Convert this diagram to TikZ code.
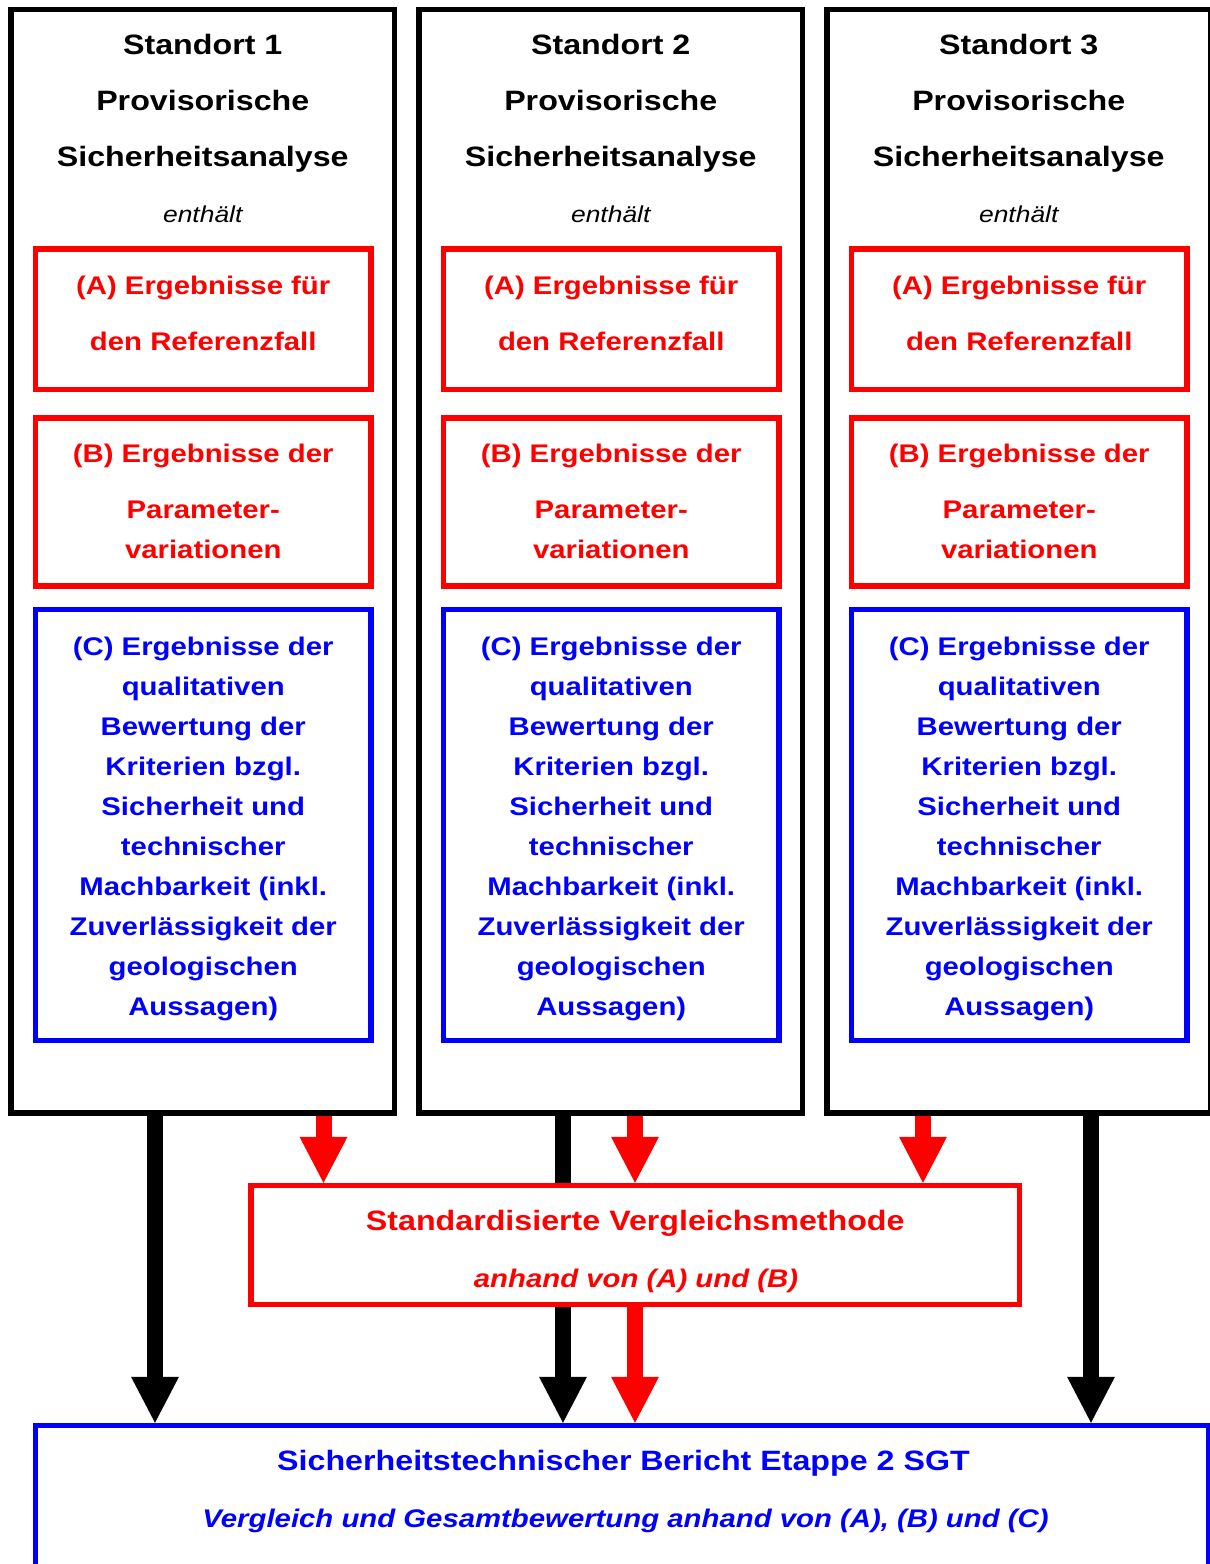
\documentclass[tikz,border=0pt]{standalone}
\usepackage{fontspec}
\setmainfont{Liberation Sans}[FakeStretch=1.15]
\usetikzlibrary{arrows.meta}
\tikzset{
  frame/.style={line width=5.5pt, inner sep=0pt, fill=white},
  blkbox/.style={frame, draw=black},
  redbox/.style={frame, draw=red},
  bluebox/.style={frame, draw=blue},
  tline/.style={inner sep=0pt, anchor=base},
  hd/.style={tline, text=black, font=\fontsize{28}{28}\selectfont\bfseries},
  contains/.style={tline, text=black, font=\fontsize{23}{23}\selectfont\itshape},
  redtxt/.style={tline, text=red, font=\fontsize{25.5}{25.5}\selectfont\bfseries},
  bluetxt/.style={tline, text=blue, font=\fontsize{25.5}{25.5}\selectfont\bfseries},
  bigred/.style={tline, text=red, font=\fontsize{28}{28}\selectfont\bfseries},
  itred/.style={tline, text=red, font=\fontsize{25.5}{25.5}\selectfont\bfseries\itshape},
  bigblue/.style={tline, text=blue, font=\fontsize{28}{28}\selectfont\bfseries},
  itblue/.style={tline, text=blue, font=\fontsize{25.5}{25.5}\selectfont\bfseries\itshape},
  shaft/.style={line width=16pt},
  blackarrow/.style={shaft, draw=black, -{Triangle[length=46pt,width=48pt,line width=0pt]}},
  redarrow/.style={shaft, draw=red, -{Triangle[length=46pt,width=48pt,line width=0pt]}},
}
\begin{document}
\begin{tikzpicture}[x=1pt, y=-1pt]
\fill[white] (0,0) rectangle (1210,1564);
\useasboundingbox (0,0) rectangle (1210,1564);

\foreach \k/\n in {0/1,1/2,2/3} {
  \pgfmathsetmacro\cx{202.75+408*\k}
  \node[blkbox, minimum width=383.5pt, minimum height=1103.5pt] (s\n) at (\cx,561.25) {};
  \node[redbox, minimum width=335.5pt, minimum height=140.7pt] (a\n) at (\cx+0.5,319.35) {};
  \node[redbox, minimum width=335.5pt, minimum height=168pt] (b\n) at (\cx+0.5,502) {};
  \node[bluebox, minimum width=335.5pt, minimum height=431pt] (c\n) at (\cx+0.5,825) {};
  \node[hd] (s\n-t1) at (\cx,54) {Standort \n};
  \node[hd] (s\n-t2) at (\cx,110) {Provisorische};
  \node[hd] (s\n-t3) at (\cx,166) {Sicherheitsanalyse};
  \node[contains] (s\n-t4) at (\cx,222) {enthält};
  \node[redtxt] (a\n-t1) at (\cx+0.5,294.5) {(A) Ergebnisse für};
  \node[redtxt] (a\n-t2) at (\cx+0.5,350) {den Referenzfall};
  \node[redtxt] (b\n-t1) at (\cx+0.5,462) {(B) Ergebnisse der};
  \node[redtxt] (b\n-t2) at (\cx+0.5,518) {Parameter-};
  \node[redtxt] (b\n-t3) at (\cx+0.5,558) {variationen};
  \foreach \i/\t in {0/(C) Ergebnisse der, 1/qualitativen, 2/Bewertung der,
      3/Kriterien bzgl., 4/Sicherheit und, 5/technischer, 6/Machbarkeit (inkl.,
      7/Zuverlässigkeit der, 8/geologischen, 9/Aussagen)} {
    \node[bluetxt] (c\n-t\i) at (\cx+0.5,655+40*\i) {\t};
  }
}

% middle and bottom boxes
\node[redbox, minimum width=768.5pt, minimum height=119pt] (mid) at (635.25,1245) {};
\node[bigred] (mid-t1) at (635.25,1230) {Standardisierte Vergleichsmethode};
\node[itred] (mid-t2) at (636,1287) {anhand von (A) und (B)};

\node[bluebox, minimum width=1173.6pt, minimum height=200pt] (bot) at (622.2,1525.5) {};
\node[bigblue] (bot-t1) at (623.5,1470) {Sicherheitstechnischer Bericht Etappe 2 SGT};
\node[itblue] (bot-t2) at (625.5,1527) {Vergleich und Gesamtbewertung anhand von (A), (B) und (C)};

% arrow columns
\coordinate (xa) at (155,0);
\coordinate (xb) at (563,0);
\coordinate (xc) at (1091,0);
\coordinate (ra) at (323.5,0);
\coordinate (rb) at (635,0);
\coordinate (rc) at (923,0);

\draw[blackarrow] (s1.south -| xa) -- (bot.north -| xa);
\draw[shaft, draw=black] (s2.south -| xb) -- (mid.north -| xb);
\draw[blackarrow] (mid.south -| xb) -- (bot.north -| xb);
\draw[blackarrow] (s3.south -| xc) -- (bot.north -| xc);

\draw[redarrow] (s1.south -| ra) -- (mid.north -| ra);
\draw[redarrow] (s2.south -| rb) -- (mid.north -| rb);
\draw[redarrow] (s3.south -| rc) -- (mid.north -| rc);
\draw[redarrow] (mid.south -| rb) -- (bot.north -| rb);
\end{tikzpicture}
\end{document}
